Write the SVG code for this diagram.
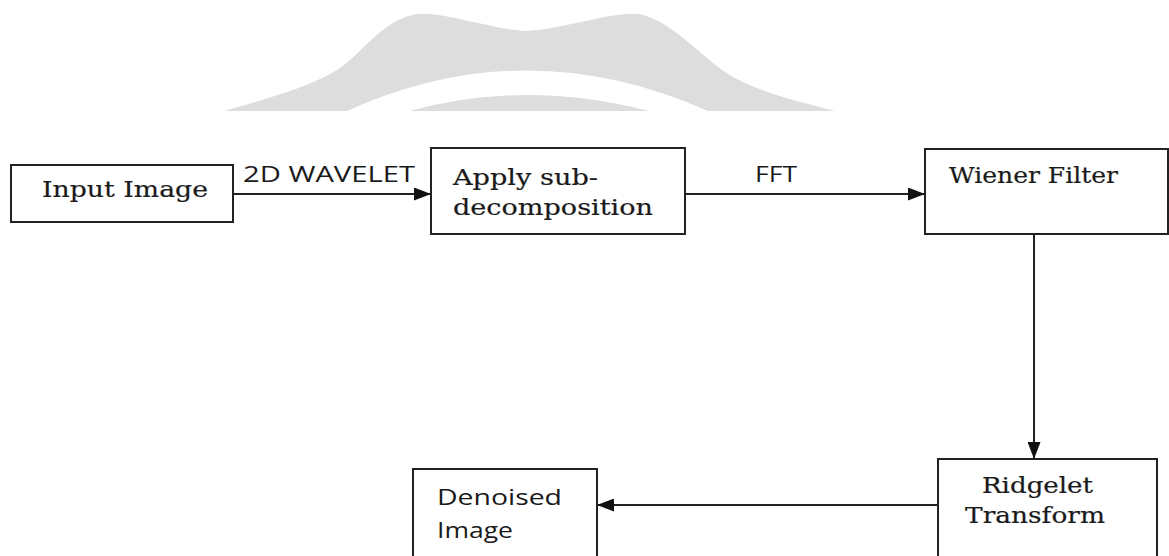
<svg xmlns="http://www.w3.org/2000/svg" width="1169" height="556" viewBox="0 0 1169 556">
<style>
.box{fill:#ffffff;stroke:#222222;stroke-width:2}
.ln{fill:none;stroke:#222222;stroke-width:2}
.serif{font-family:"DejaVu Serif","Liberation Serif",serif;font-size:23px;fill:#1a1a1a;stroke:#1a1a1a;stroke-width:0.2}
.sans{font-family:"Open Sans","Liberation Sans",sans-serif;font-size:22px;fill:#1a1a1a}
</style>
<defs>
<marker id="ah" markerWidth="17" markerHeight="13" refX="17" refY="6.5" orient="auto" markerUnits="userSpaceOnUse">
<path d="M0,0 L17,6.5 L0,13 Z" fill="#111111"/>
</marker>
</defs>
<rect width="1169" height="556" fill="#ffffff"/>
<g id="watermark">
<path d="M224,111 C270,98 315,85 340,68 C365,50 385,18 418,14 C445,12 495,30 526,31 C560,30 610,12 638,14 C668,18 700,55 725,72 C755,92 800,102 835,111 Z" fill="#dddddd"/>
<path d="M347,111 Q526,30 708,111 L649,111 Q526,79 410,111 Z" fill="#ffffff"/>
</g>
<g id="connectors">
<line class="ln" x1="233" y1="194" x2="431" y2="194" marker-end="url(#ah)"/>
<line class="ln" x1="685" y1="194" x2="925" y2="194" marker-end="url(#ah)"/>
<line class="ln" x1="1034" y1="234" x2="1034" y2="459" marker-end="url(#ah)"/>
<line class="ln" x1="938" y1="505" x2="597" y2="505" marker-end="url(#ah)"/>
<text class="sans" x="243" y="182" textLength="172" lengthAdjust="spacingAndGlyphs">2D WAVELET</text>
<text class="sans" x="755" y="182" textLength="42" lengthAdjust="spacingAndGlyphs">FFT</text>
</g>
<g id="input">
<rect class="box" x="11" y="165" width="222" height="57"/>
<text class="serif" x="42" y="197" textLength="166" lengthAdjust="spacingAndGlyphs">Input Image</text>
</g>
<g id="apply">
<rect class="box" x="431" y="148" width="254" height="86"/>
<text class="serif" x="453" y="185" textLength="145" lengthAdjust="spacingAndGlyphs">Apply sub-</text>
<text class="serif" x="453" y="215" textLength="200" lengthAdjust="spacingAndGlyphs">decomposition</text>
</g>
<g id="wiener">
<rect class="box" x="925" y="149" width="243" height="85"/>
<text class="serif" x="949" y="183" textLength="169" lengthAdjust="spacingAndGlyphs">Wiener Filter</text>
</g>
<g id="ridgelet">
<rect class="box" x="938" y="459" width="219" height="110"/>
<text class="serif" x="982" y="493" textLength="111" lengthAdjust="spacingAndGlyphs">Ridgelet</text>
<text class="serif" x="965" y="523" textLength="140" lengthAdjust="spacingAndGlyphs">Transform</text>
</g>
<g id="denoised">
<rect class="box" x="413" y="469" width="184" height="100"/>
<text class="sans" x="437" y="505" textLength="125" lengthAdjust="spacingAndGlyphs">Denoised</text>
<text class="sans" x="437" y="538" textLength="76" lengthAdjust="spacingAndGlyphs">Image</text>
</g>
</svg>
